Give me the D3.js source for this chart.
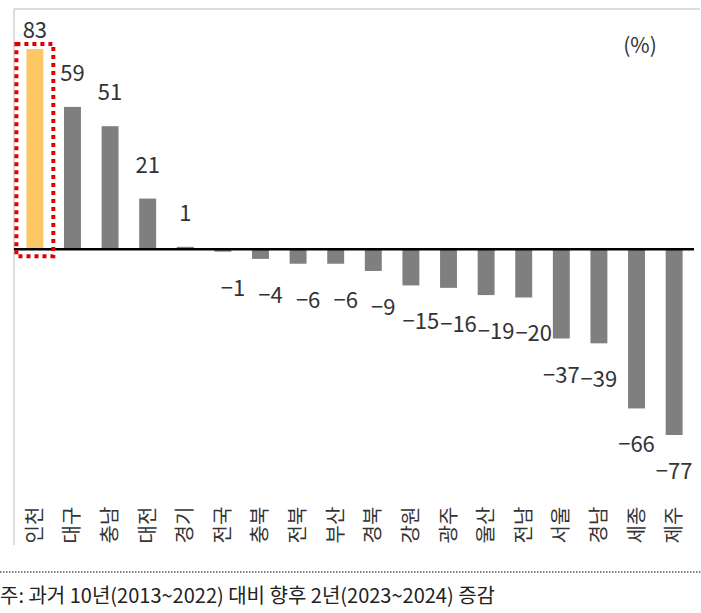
<!DOCTYPE html>
<html><head><meta charset="utf-8">
<script src="https://cdn.jsdelivr.net/npm/d3@7"></script>
<style>body{margin:0;background:#fff}text{font-family:"Noto Sans CJK KR","Noto Sans",sans-serif}</style>
</head><body>
<svg width="701" height="613"></svg>
<script>
const regions = ["인천","대구","충남","대전","경기","전국","충북","전북","부산","경북","강원","광주","울산","전남","서울","경남","세종","제주"];
const values = [83,59,51,21,1,-1,-4,-6,-6,-9,-15,-16,-19,-20,-37,-39,-66,-77];

const svg = d3.select("svg");
const x = d3.scaleBand().domain(regions).range([17, 692]).paddingInner(0.55).paddingOuter(0.25);
const y = d3.scaleLinear().domain([-77, 83]).range([435, 49]);

// frame
svg.append("path").attr("d", "M14,545V9H700").attr("fill", "none").attr("stroke", "#bbb").attr("stroke-width", 1);

svg.selectAll("rect.bar").data(values).enter().append("rect")
  .attr("x", (d, i) => x(regions[i]))
  .attr("width", x.bandwidth())
  .attr("y", d => y(Math.max(0, d)))
  .attr("height", d => Math.abs(y(d) - y(0)))
  .attr("fill", (d, i) => i == 0 ? "#fcc865" : "#7f7f7f");

svg.append("line").attr("x1", 14).attr("x2", 694).attr("y1", y(0)).attr("y2", y(0))
  .attr("stroke", "#000").attr("stroke-width", 2.5);

// highlight box
const bx = x(regions[0]);
svg.append("rect").attr("x", bx - 10).attr("y", 44).attr("width", x.bandwidth() + 20).attr("height", y(0) + 7 - 44)
  .attr("fill", "none").attr("stroke", "#e00000").attr("stroke-width", 4).attr("stroke-dasharray", "4,4");

svg.selectAll("text.val").data(values).enter().append("text")
  .attr("x", (d, i) => x(regions[i]) + x.bandwidth() / 2 + (d < 0 && d > -30 ? 10 : 0))
  .attr("y", d => d >= 0 ? Math.max(y(d) - 26, 38) : y(d) + 44)
  .attr("text-anchor", "middle").attr("font-size", 22).attr("fill", "#333")
  .text(d => d < 0 ? "−" + Math.abs(d) : d);

svg.append("text").attr("x", 640).attr("y", 53).attr("text-anchor", "middle").attr("font-size", 21).attr("fill", "#333").text("(%)");

svg.selectAll("text.cat").data(regions).enter().append("text")
  .attr("transform", d => `translate(${x(d) + x.bandwidth() / 2 + 7},525) rotate(-90)`)
  .attr("text-anchor", "middle").attr("font-size", 20).attr("fill", "#333").text(d => d);

svg.append("line").attr("x1", 0).attr("x2", 701).attr("y1", 572).attr("y2", 572)
  .attr("stroke", "#555").attr("stroke-width", 1.5).attr("stroke-dasharray", "1.5,1.5");
svg.append("text").attr("x", 0).attr("y", 603).attr("font-size", 20).attr("fill", "#222")
  .text("주: 과거 10년(2013~2022) 대비 향후 2년(2023~2024) 증감");
</script>
</body></html>
